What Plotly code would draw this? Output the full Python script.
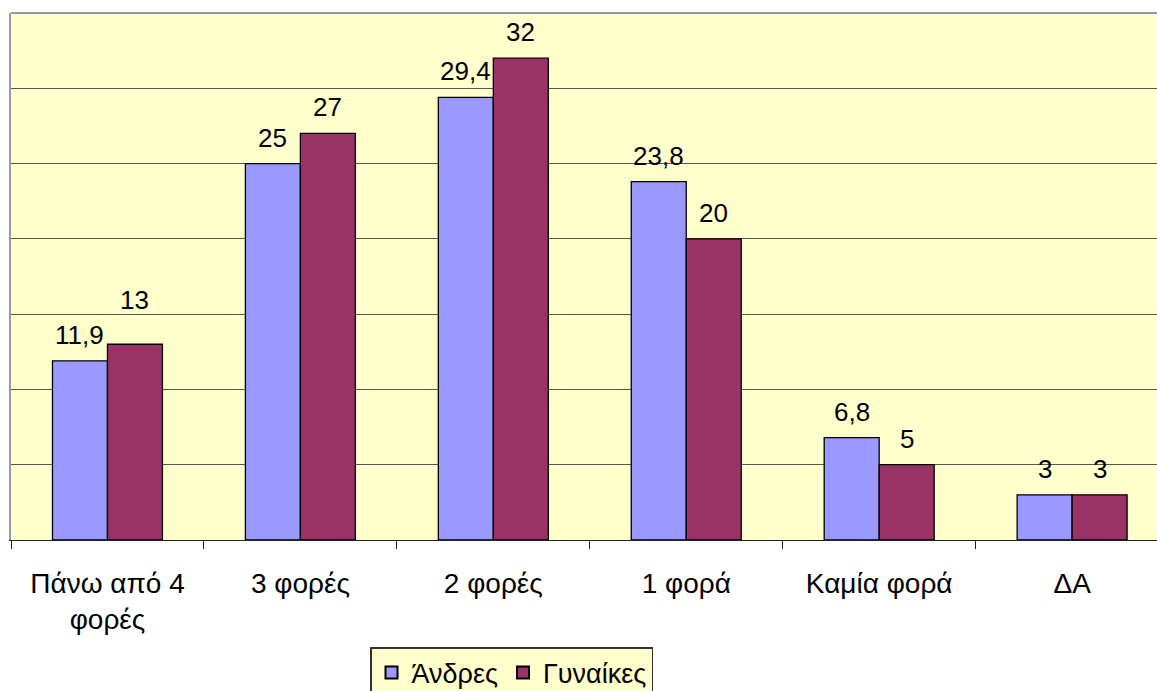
import plotly.graph_objects as go

categories = ["Πάνω από 4<br>φορές", "3 φορές", "2 φορές", "1 φορά", "Καμία φορά", "ΔΑ"]
andres = [11.9, 25, 29.4, 23.8, 6.8, 3]
gynaikes = [13, 27, 32, 20, 5, 3]
andres_labels = ["11,9", "25", "29,4", "23,8", "6,8", "3"]
gynaikes_labels = ["13", "27", "32", "20", "5", "3"]

BLUE = "#9999FF"
MAROON = "#993366"
BG = "#FFFFCC"
FONT = "Liberation Sans, Arial, sans-serif"

fig = go.Figure()
fig.add_trace(go.Bar(name="Άνδρες", x=categories, y=andres, marker=dict(color=BLUE, line=dict(color="#000000", width=1.3))))
fig.add_trace(go.Bar(name="Γυναίκες", x=categories, y=gynaikes, marker=dict(color=MAROON, line=dict(color="#000000", width=1.3))))

bargap = 0.43
half = (1 - bargap) / 4
annotations = []
for i, (v, t) in enumerate(zip(andres, andres_labels)):
    annotations.append(dict(x=i - half, y=v, text=t, showarrow=False, yshift=26,
                            font=dict(size=26, color="#000", family=FONT), xref="x", yref="y"))
for i, (v, t) in enumerate(zip(gynaikes, gynaikes_labels)):
    shift = 44 if i == 0 else 26
    annotations.append(dict(x=i + half, y=v, text=t, showarrow=False, yshift=shift,
                            font=dict(size=26, color="#000", family=FONT), xref="x", yref="y"))

fig.update_layout(
    width=1157, height=691,
    margin=dict(l=11, r=0, t=13, b=151, autoexpand=False),
    paper_bgcolor="white",
    plot_bgcolor=BG,
    barmode="group",
    bargap=bargap,
    bargroupgap=0,
    font=dict(family=FONT, size=26, color="#000"),
    showlegend=True,
    legend=dict(orientation="h", x=(370 - 11) / 1146, xanchor="left", y=-(647 - 540) / 527, yanchor="top",
                bgcolor=BG, bordercolor="#333333", borderwidth=1.5,
                font=dict(size=27, family=FONT, color="#000"),
                itemsizing="constant", tracegroupgap=0, itemwidth=30),
    annotations=annotations,
    shapes=[dict(type="line", xref="paper", yref="paper", x0=0, x1=1, y0=1, y1=1,
                 line=dict(color="#999999", width=2))],
)
fig.update_xaxes(type="category", range=[-0.5, 5.44], showline=True, linecolor="#222222", linewidth=1.3,
                 ticks="outside", tickson="boundaries", ticklen=8, tickcolor="#222222", tickwidth=1.3,
                 showgrid=False, automargin=False, ticklabelstandoff=18,
                 tickfont=dict(size=28, family=FONT, color="#000"))
fig.update_yaxes(range=[0, 35], dtick=5, showgrid=True, gridcolor="#555555", gridwidth=1,
                 showline=True, linecolor="#999999", linewidth=2, showticklabels=False, ticks="",
                 zeroline=False, automargin=False)

fig.write_html("out.html")
